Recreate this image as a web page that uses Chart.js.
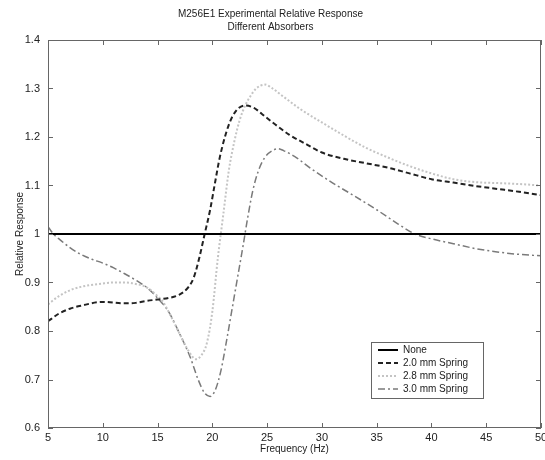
<!DOCTYPE html>
<html>
<head>
<meta charset="utf-8">
<script src="https://cdn.jsdelivr.net/npm/chart.js@4.4.1/dist/chart.umd.min.js"></script>
<style>
  body { margin: 0; background: #fff; }
</style>
</head>
<body>
<canvas id="chart" width="545" height="460"></canvas>
<script>
// Series names
const seriesNames = ["None", "2.0 mm Spring", "2.8 mm Spring", "3.0 mm Spring"];

// No absorber: flat reference
const freqNone = [5, 50];
const respNone = [1, 1];

// 2.0 mm spring
const freq20 = [5, 6, 7, 8, 10, 12, 13, 14, 15, 16, 17, 17.8, 18.3, 18.8, 19.3, 19.8, 20.2, 20.7, 21.5, 22.2, 23, 23.8, 24.5, 25.5, 27, 28.5, 30, 32, 34, 36, 38, 40, 42, 44, 46, 48, 50];
const resp20 = [0.82, 0.836, 0.846, 0.852, 0.86, 0.857, 0.858, 0.862, 0.865, 0.868, 0.875, 0.89, 0.91, 0.95, 1.0, 1.05, 1.10, 1.16, 1.225, 1.255, 1.265, 1.26, 1.248, 1.23, 1.205, 1.186, 1.168, 1.155, 1.146, 1.137, 1.125, 1.113, 1.106, 1.099, 1.093, 1.087, 1.08];

// 2.8 mm spring
const freq28 = [5, 6, 7, 8, 10, 11, 12, 13, 14, 15, 15.5, 16, 17, 17.8, 18.5, 19, 19.5, 20, 20.5, 21, 21.5, 22, 22.5, 23, 23.5, 24, 24.8, 25.5, 26.5, 28, 30, 32, 34, 36, 38, 40, 42, 44, 46, 48, 50];
const resp28 = [0.855, 0.872, 0.884, 0.891, 0.898, 0.9, 0.9, 0.897, 0.89, 0.872, 0.86, 0.84, 0.795, 0.76, 0.742, 0.75, 0.775, 0.84, 0.95, 1.04, 1.13, 1.19, 1.235, 1.265, 1.285, 1.3, 1.308, 1.3, 1.283, 1.258, 1.23, 1.203, 1.178, 1.158, 1.14, 1.125, 1.113, 1.107, 1.105, 1.103, 1.1];

// 3.0 mm spring
const freq30 = [5, 5.5, 6, 7, 8, 9, 10, 11, 12, 13, 14, 15, 16, 17, 18, 18.7, 19.3, 19.8, 20.3, 20.8, 21.3, 21.8, 22.3, 22.8, 23.2, 23.7, 24.2, 24.8, 25.5, 26, 26.5, 27.5, 29, 31, 33, 35, 37, 38.5, 40, 42, 44, 46, 48, 50];
const resp30 = [1.015, 1.0, 0.99, 0.972, 0.958, 0.948, 0.94, 0.93, 0.918, 0.905, 0.89, 0.868, 0.84, 0.795, 0.745, 0.7, 0.672, 0.665, 0.68, 0.72, 0.78, 0.845, 0.91, 0.975, 1.03, 1.09, 1.13, 1.158, 1.172, 1.176, 1.172, 1.16, 1.135, 1.105, 1.078, 1.05, 1.02, 1.0, 0.99, 0.98, 0.97, 0.963, 0.958, 0.955];

// Axis ticks
const xTicks = [5, 10, 15, 20, 25, 30, 35, 40, 45, 50];
const yTicks = [0.6, 0.7, 0.8, 0.9, 1.0, 1.1, 1.2, 1.3, 1.4];

function toPoints(xs, ys) {
    return xs.map((x, i) => ({ x: x, y: ys[i] }));
}

const FONT = "'Liberation Sans', Arial, sans-serif";

const datasets = [
    { label: seriesNames[0], data: toPoints(freqNone, respNone), borderColor: "#000", borderWidth: 2 },
    { label: seriesNames[1], data: toPoints(freq20, resp20), borderColor: "#222", borderWidth: 2, borderDash: [5, 3] },
    { label: seriesNames[2], data: toPoints(freq28, resp28), borderColor: "#c4c4c4", borderWidth: 2, borderDash: [2, 2] },
    { label: seriesNames[3], data: toPoints(freq30, resp30), borderColor: "#7a7a7a", borderWidth: 1.5, borderDash: [7, 3, 2, 3] }
];
datasets.forEach(d => {
    d.pointRadius = 0;
    d.fill = false;
    d.cubicInterpolationMode = "monotone";
});

// Box around the plot with inward ticks on all sides (MATLAB style)
const boxPlugin = {
    id: "box",
    afterDatasetsDraw(chart) {
        const { ctx, chartArea: a, scales } = chart;
        ctx.save();
        ctx.strokeStyle = "#666";
        ctx.lineWidth = 1;
        ctx.strokeRect(a.left + 0.5, a.top + 0.5, a.right - a.left - 1, a.bottom - a.top - 1);
        ctx.beginPath();
        xTicks.forEach(v => {
            const px = Math.round(scales.x.getPixelForValue(v)) + 0.5;
            ctx.moveTo(px, a.bottom); ctx.lineTo(px, a.bottom - 5);
            ctx.moveTo(px, a.top); ctx.lineTo(px, a.top + 5);
        });
        yTicks.forEach(v => {
            const py = Math.round(scales.y.getPixelForValue(v)) + 0.5;
            ctx.moveTo(a.left, py); ctx.lineTo(a.left + 5, py);
            ctx.moveTo(a.right, py); ctx.lineTo(a.right - 5, py);
        });
        ctx.stroke();
        ctx.restore();
    }
};

// Legend drawn inside the plot, lower right
const legendPlugin = {
    id: "insideLegend",
    afterDraw(chart) {
        const { ctx, chartArea: a } = chart;
        const w = 112, h = 56;
        const left = a.right - 170, top = a.bottom - 86;
        ctx.save();
        ctx.fillStyle = "#fff";
        ctx.fillRect(left, top, w, h);
        ctx.strokeStyle = "#666";
        ctx.lineWidth = 1;
        ctx.strokeRect(left + 0.5, top + 0.5, w, h);
        ctx.font = "10px " + FONT;
        ctx.textBaseline = "middle";
        chart.data.datasets.forEach((d, i) => {
            const y = top + 8 + i * 13;
            ctx.strokeStyle = d.borderColor;
            ctx.lineWidth = d.borderWidth;
            ctx.setLineDash(d.borderDash || []);
            ctx.beginPath();
            ctx.moveTo(left + 7, y);
            ctx.lineTo(left + 27, y);
            ctx.stroke();
            ctx.setLineDash([]);
            ctx.fillStyle = "#222";
            ctx.fillText(d.label, left + 32, y);
        });
        ctx.restore();
    }
};

new Chart(document.getElementById("chart"), {
    type: "line",
    data: { datasets: datasets },
    options: {
        responsive: false,
        animation: false,
        layout: { padding: { left: 0, right: 4, top: 0, bottom: 0 } },
        plugins: {
            legend: { display: false },
            tooltip: { enabled: false },
            title: {
                display: true,
                text: ["M256E1 Experimental Relative Response", "Different Absorbers"],
                color: "#222",
                font: { family: FONT, size: 10, weight: "normal", lineHeight: 1.25 },
                padding: { top: 8, bottom: 7 }
            }
        },
        scales: {
            x: {
                type: "linear",
                min: 5,
                max: 50,
                afterBuildTicks(scale) { scale.ticks = xTicks.map(v => ({ value: v })); },
                afterFit(scale) { scale.height = 32; scale.paddingLeft = 0; scale.paddingRight = 0; },
                grid: { display: false, drawTicks: false },
                border: { display: false },
                ticks: { color: "#222", font: { family: FONT, size: 11 }, padding: 3, maxRotation: 0 },
                title: { display: true, text: "Frequency (Hz)", color: "#222", font: { family: FONT, size: 10 }, padding: { top: 0, bottom: 5 } }
            },
            y: {
                min: 0.6,
                max: 1.4,
                afterBuildTicks(scale) { scale.ticks = yTicks.map(v => ({ value: v })); },
                afterFit(scale) { scale.width = 48; scale.paddingTop = 0; scale.paddingBottom = 0; },
                grid: { display: false, drawTicks: false },
                border: { display: false },
                ticks: {
                    color: "#222",
                    font: { family: FONT, size: 11 },
                    padding: 8,
                    callback: v => String(Number(v.toFixed(1)))
                },
                title: { display: true, text: "Relative Response", color: "#222", font: { family: FONT, size: 10 }, padding: { top: 14, bottom: 0 } }
            }
        }
    },
    plugins: [boxPlugin, legendPlugin]
});
</script>
</body>
</html>
